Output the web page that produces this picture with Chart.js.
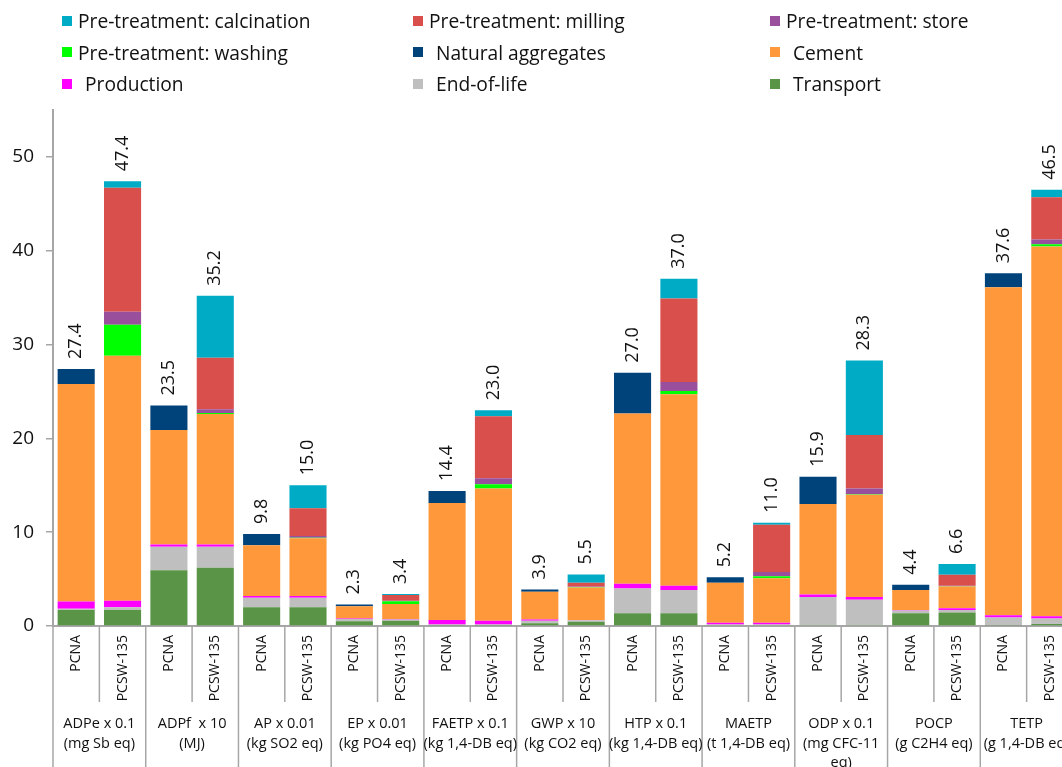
<!DOCTYPE html>
<html>
<head>
<meta charset="utf-8">
<script src="https://cdn.jsdelivr.net/npm/chart.js@4/dist/chart.umd.min.js"></script>
<style>
  html, body { margin: 0; padding: 0; background: #fff; overflow: hidden; width: 1062px; height: 767px; }
  #wrap { position: relative; width: 1062px; height: 767px; overflow: hidden; }
  #chart { position: absolute; left: 0; top: 0; }
  #legend {
    position: absolute; left: 62px; top: 5px;
    display: grid; grid-template-columns: 351px 357px 260px; grid-auto-rows: 31.5px;
    font-family: "Open Sans", sans-serif; font-size: 19.2px; color: #111;
  }
  #legend .item { display: flex; align-items: center; white-space: nowrap; }
  #legend .box { width: 10px; height: 10px; margin-right: 6px; flex: none; }
  #legend .indent .box { margin-right: 13px; }
</style>
</head>
<body>
<div id="wrap">
  <canvas id="chart" width="1076" height="767" style="width:1076px;height:767px"></canvas>
  <div id="legend"></div>
</div>
<script>
const categories = [
  'PCNA', 'PCSW-135', 'PCNA', 'PCSW-135', 'PCNA', 'PCSW-135', 'PCNA', 'PCSW-135',
  'PCNA', 'PCSW-135', 'PCNA', 'PCSW-135', 'PCNA', 'PCSW-135', 'PCNA', 'PCSW-135',
  'PCNA', 'PCSW-135', 'PCNA', 'PCSW-135', 'PCNA', 'PCSW-135'
]

const groups = [
  ['ADPe x 0.1', '(mg Sb eq)'],
  ['ADPf  x 10', '(MJ)'],
  ['AP x 0.01', '(kg SO2 eq)'],
  ['EP x 0.01', '(kg PO4 eq)'],
  ['FAETP x 0.1', '(kg 1,4-DB eq)'],
  ['GWP x 10', '(kg CO2 eq)'],
  ['HTP x 0.1', '(kg 1,4-DB eq)'],
  ['MAETP', '(t 1,4-DB eq)'],
  ['ODP x 0.1', '(mg CFC-11', 'eq)'],
  ['POCP', '(g C2H4 eq)'],
  ['TETP', '(g 1,4-DB eq)']
]

const yTicks = [0, 10, 20, 30, 40, 50]

// stack order, bottom to top
const transport = [1.7, 1.7, 5.95, 6.2, 2.0, 2.0, 0.5, 0.55, 0.1, 0.1, 0.3, 0.45, 1.35, 1.35, 0.05, 0.05, 0.05, 0.05, 1.35, 1.45, 0.1, 0.2]
const endOfLife = [0.15, 0.3, 2.5, 2.25, 1.0, 1.0, 0.25, 0.15, 0.05, 0.05, 0.25, 0.15, 2.65, 2.5, 0.1, 0.1, 3.05, 2.75, 0.3, 0.25, 0.8, 0.6]
const production = [0.75, 0.7, 0.25, 0.25, 0.2, 0.2, 0.05, 0.05, 0.5, 0.4, 0.15, 0.05, 0.5, 0.45, 0.2, 0.2, 0.25, 0.3, 0.05, 0.2, 0.25, 0.25]
const cement = [23.2, 26.1, 12.2, 13.9, 5.4, 6.15, 1.3, 1.6, 12.45, 14.1, 2.95, 3.45, 18.15, 20.4, 4.25, 4.75, 9.65, 10.9, 2.15, 2.3, 34.95, 39.4]
const naturalAggregates = [1.6, 0, 2.6, 0, 1.2, 0, 0.2, 0, 1.3, 0, 0.25, 0, 4.35, 0, 0.6, 0, 2.9, 0, 0.55, 0, 1.5, 0]
const washing = [0, 3.3, 0, 0.1, 0, 0.05, 0, 0.3, 0, 0.45, 0, 0.05, 0, 0.35, 0, 0.2, 0, 0.05, 0, 0.05, 0, 0.25]
const store = [0, 1.4, 0, 0.4, 0, 0.2, 0, 0.05, 0, 0.65, 0, 0.05, 0, 0.95, 0, 0.45, 0, 0.6, 0, 0.05, 0, 0.5]
const milling = [0, 13.2, 0, 5.5, 0, 2.95, 0, 0.6, 0, 6.6, 0, 0.4, 0, 8.9, 0, 5.05, 0, 5.7, 0, 1.15, 0, 4.5]
const calcination = [0, 0.7, 0, 6.6, 0, 2.45, 0, 0.1, 0, 0.65, 0, 0.9, 0, 2.1, 0, 0.2, 0, 7.95, 0, 1.15, 0, 0.8]

const FONT = '"Open Sans", sans-serif'
const LINE = '#a6a6a6'
const TEXT = '#111'

const datasets = [
  { label: 'Transport', data: transport, backgroundColor: '#5a9447' },
  { label: 'End-of-life', data: endOfLife, backgroundColor: '#bfbfbf' },
  { label: 'Production', data: production, backgroundColor: '#ff00ff' },
  { label: 'Cement', data: cement, backgroundColor: '#ff983b' },
  { label: 'Natural aggregates', data: naturalAggregates, backgroundColor: '#00427a' },
  { label: 'Pre-treatment: washing', data: washing, backgroundColor: '#00ff00' },
  { label: 'Pre-treatment: store', data: store, backgroundColor: '#9a4f9c' },
  { label: 'Pre-treatment: milling', data: milling, backgroundColor: '#d94f4b' },
  { label: 'Pre-treatment: calcination', data: calcination, backgroundColor: '#00abc6' }
].map((d) => ({ ...d, barPercentage: 0.8, categoryPercentage: 1, borderWidth: 0 }))

// two-level x axis: separators, rotated bar names, group names
const xAxisLabels = {
  id: 'xAxisLabels',
  afterDraw(chart) {
    const x = chart.scales.x
    const ctx = chart.ctx
    const top = chart.chartArea.bottom
    const innerBottom = top + 76
    const half = (x.getPixelForValue(1) - x.getPixelForValue(0)) / 2
    ctx.save()
    ctx.strokeStyle = LINE
    ctx.lineWidth = 1.5
    for (let i = 0; i <= categories.length; i++) {
      const px = i < categories.length ? x.getPixelForValue(i) - half : x.getPixelForValue(i - 1) + half
      ctx.beginPath()
      ctx.moveTo(px, top)
      ctx.lineTo(px, i % 2 === 0 ? chart.height : innerBottom)
      ctx.stroke()
    }

    ctx.fillStyle = TEXT
    ctx.font = '14px ' + FONT
    ctx.textAlign = 'right'
    ctx.textBaseline = 'middle'
    categories.forEach((name, i) => {
      ctx.save()
      ctx.translate(x.getPixelForValue(i), top + 9)
      ctx.rotate(-Math.PI / 2)
      ctx.fillText(name, 0, 0)
      ctx.restore()
    })

    ctx.font = '14.5px ' + FONT
    ctx.textAlign = 'center'
    groups.forEach((lines, g) => {
      const cx = (x.getPixelForValue(2 * g) + x.getPixelForValue(2 * g + 1)) / 2
      lines.forEach((line, k) => ctx.fillText(line, cx, innerBottom + 22 + k * 19.5))
    })
    ctx.restore()
  }
}

// rotated totals above each bar
const totals = {
  id: 'totals',
  afterDatasetsDraw(chart) {
    const x = chart.scales.x
    const y = chart.scales.y
    const ctx = chart.ctx
    ctx.save()
    ctx.fillStyle = TEXT
    ctx.font = '18px ' + FONT
    ctx.textAlign = 'left'
    ctx.textBaseline = 'middle'
    for (let i = 0; i < categories.length; i++) {
      const total = datasets.reduce((s, d) => s + d.data[i], 0)
      ctx.save()
      ctx.translate(x.getPixelForValue(i), y.getPixelForValue(total) - 10)
      ctx.rotate(-Math.PI / 2)
      ctx.fillText(total.toFixed(1), 0, 0)
      ctx.restore()
    }
    ctx.restore()
  }
}

const chart = new Chart(document.getElementById('chart'), {
  type: 'bar',
  data: { labels: categories, datasets },
  options: {
    responsive: false,
    animation: false,
    layout: { padding: { top: 110, right: 3, left: 0, bottom: 0 } },
    plugins: { legend: { display: false }, tooltip: { enabled: false } },
    scales: {
      x: {
        stacked: true,
        grid: { display: false },
        border: { display: true, color: LINE, width: 2 },
        ticks: { display: false },
        afterFit: (s) => { s.height = 141 }
      },
      y: {
        stacked: true,
        min: 0,
        max: 55,
        afterBuildTicks: (s) => { s.ticks = yTicks.map((v) => ({ value: v })) },
        grid: { drawOnChartArea: false, drawTicks: true, tickLength: 7, color: LINE, lineWidth: 1.5 },
        border: { display: true, color: LINE, width: 2 },
        ticks: { padding: 12, color: TEXT, font: { family: FONT, size: 19 } },
        afterFit: (s) => { s.width = 53 }
      }
    }
  },
  plugins: [xAxisLabels, totals]
})

// html legend in three columns, same order as the reference
// (some labels in the original sit a little further from their swatch)
const indented = ['Natural aggregates', 'Cement', 'Production', 'End-of-life', 'Transport']
const legend = document.getElementById('legend')
for (const d of [...datasets].reverse()) {
  const item = document.createElement('div')
  item.className = indented.includes(d.label) ? 'item indent' : 'item'
  item.innerHTML = `<span class="box" style="background:${d.backgroundColor}"></span><span>${d.label}</span>`
  legend.appendChild(item)
}
</script>
</body>
</html>
